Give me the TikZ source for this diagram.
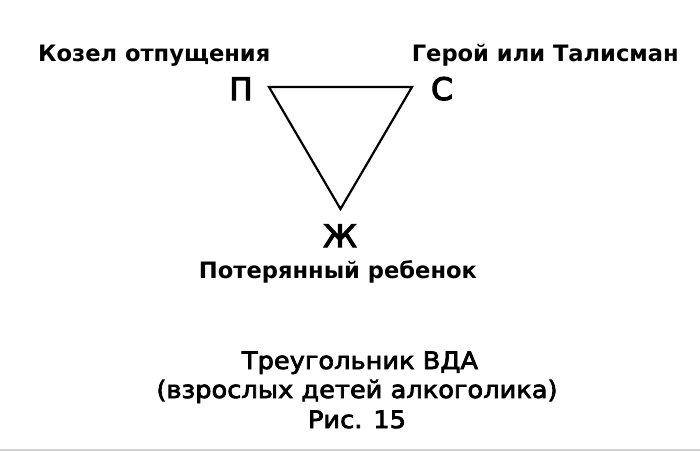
\documentclass[tikz,border=0pt]{standalone}
\usepackage{fontspec}
\setmainfont{DejaVu Sans}
\newfontfamily\capfont[FakeStretch=1.07,FakeBold=3]{DejaVu Sans}
\newfontfamily\vtxfont[FakeBold=4]{DejaVu Sans}
\begin{document}
\begin{tikzpicture}[x=1pt,y=-1pt,
  lbl/.style={inner sep=0pt,font=\bfseries\fontsize{22.6}{26}\selectfont},
  vtx/.style={inner sep=0pt,font=\vtxfont\fontsize{31}{36}\selectfont},
  captxt/.style={inner sep=0pt,font=\capfont\fontsize{24}{28}\selectfont},
  edge/.style={line width=2.2pt,line join=miter}]
\useasboundingbox (0,0) rectangle (700,451);
\fill[white] (0,0) rectangle (700,451);
\coordinate (pv) at (269,87);
\coordinate (sv) at (412,87);
\coordinate (zv) at (340.5,209);
\draw[edge] (pv) -- (sv) -- (zv) -- cycle;
\node[vtx,anchor=base] (P) at (241,100) {П};
\node[vtx,anchor=base] (S) at (442,100) {С};
\node[vtx,anchor=base] (Z) at (340,247) {Ж};
\node[lbl,anchor=base west] (kozel) at (38,61) {Козел отпущения};
\node[lbl,anchor=base east] (geroy) at (679,61) {Герой или Талисман};
\node[lbl,anchor=base] (poter) at (338,278) {Потерянный ребенок};
\node[captxt,anchor=base] (t1) at (360,369) {Треугольник ВДА};
\node[captxt,anchor=base] (t2) at (357,398) {(взрослых детей алкоголика)};
\node[captxt,anchor=base] (t3) at (357,428) {Рис. 15};
\draw[black!18,line width=1.5pt] (0,450) -- (700,450);
\end{tikzpicture}
\end{document}
